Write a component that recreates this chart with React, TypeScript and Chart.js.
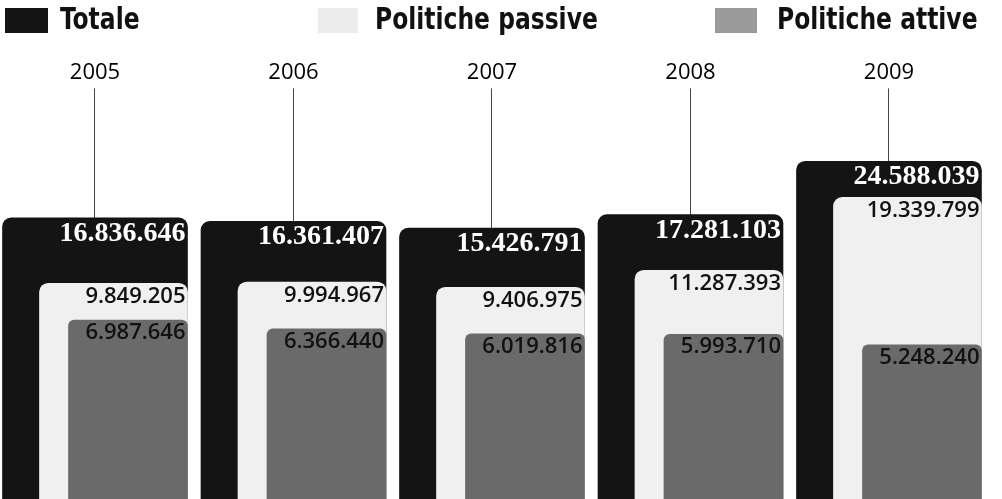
import React, { useEffect, useRef } from "react";
import { Chart, registerables } from "chart.js";

Chart.register(...registerables);

// ---- data ----
const years = ["2005", "2006", "2007", "2008", "2009"];
const totale = [16836646, 16361407, 15426791, 17281103, 24588039];
const passive = [9849205, 9994967, 9406975, 11287393, 19339799];
const attive = [6987646, 6366440, 6019816, 5993710, 5248240];
const seriesNames = ["Totale", "Politiche passive", "Politiche attive"];

// ---- styling / scale ranges ----
const COLORS = ["#141414", "#f0f0f0", "#6a6a6a"];
const Y_TOT = { min: -21.65e6, max: 33.47e6 };
const Y_PAS = { min: -13.96e6, max: 30.48e6 };
const Y_ATT = { min: -5.65e6, max: 22.8e6 };
const X_TOT = { min: -0.4786, max: 4.5694 };
const X_PAS = { min: -0.5718, max: 4.4762 };
const X_ATT = { min: -0.6448, max: 4.4032 };

const fmt = (v: number) => String(v).replace(/\B(?=(\d{3})+(?!\d))/g, ".");

const LABEL_STYLES = [
  { font: "bold 28px 'Liberation Serif', serif", color: "#ffffff", dy: 23 },
  { font: "600 22px 'Open Sans', sans-serif", color: "#111111", dy: 20 },
  { font: "600 22px 'Open Sans', sans-serif", color: "#111111", dy: 19 },
];

const valueLabels = {
  id: "valueLabels",
  afterDatasetsDraw(chart: any) {
    const ctx = chart.ctx;
    chart.data.datasets.forEach((ds: any, di: number) => {
      const meta = chart.getDatasetMeta(di);
      const st = LABEL_STYLES[di];
      meta.data.forEach((el: any, i: number) => {
        const { x, y, width } = el.getProps(["x", "y", "width"], true);
        ctx.save();
        ctx.font = st.font;
        ctx.fillStyle = st.color;
        ctx.textAlign = "right";
        ctx.textBaseline = "alphabetic";
        ctx.fillText(fmt(ds.raw[i]), x + width / 2 - 2, y + st.dy);
        ctx.restore();
      });
    });
  },
};

const legendFont = "'DejaVu Sans Condensed', 'DejaVu Sans', sans-serif";

const hiddenX = (r: { min: number; max: number }) => ({
  type: "linear",
  display: false,
  offset: false,
  grid: { offset: false },
  min: r.min,
  max: r.max,
});

export default function App() {
  const ref = useRef<HTMLCanvasElement | null>(null);

  useEffect(() => {
    if (!ref.current) return;
    const mk = (vals: number[]) => vals.map((v, i) => ({ x: i, y: v }));
    const chart = new Chart(ref.current, {
      type: "bar",
      data: {
        datasets: [
          {
            label: seriesNames[0],
            raw: totale,
            data: mk(totale),
            xAxisID: "xT",
            yAxisID: "yT",
            backgroundColor: COLORS[0],
            barThickness: 185,
            borderRadius: 9,
            base: Y_TOT.min,
            grouped: false,
            order: 3,
          } as any,
          {
            label: seriesNames[1],
            raw: passive,
            data: mk(passive),
            xAxisID: "xP",
            yAxisID: "yP",
            backgroundColor: COLORS[1],
            barThickness: 148,
            borderRadius: 9,
            base: Y_PAS.min,
            grouped: false,
            order: 2,
          } as any,
          {
            label: seriesNames[2],
            raw: attive,
            data: mk(attive),
            xAxisID: "xA",
            yAxisID: "yA",
            backgroundColor: COLORS[2],
            barThickness: 119,
            borderRadius: 6,
            base: Y_ATT.min,
            grouped: false,
            order: 1,
          } as any,
        ],
      },
      options: {
        animation: false,
        responsive: true,
        maintainAspectRatio: false,
        layout: { padding: { top: 58, left: 0, right: 0, bottom: 0 } },
        plugins: { legend: { display: false }, tooltip: { enabled: false } },
        scales: {
          xT: {
            type: "linear",
            position: "top",
            offset: false,
            min: X_TOT.min,
            max: X_TOT.max,
            afterBuildTicks: (axis: any) => {
              axis.ticks = years.map((_, i) => ({ value: i }));
            },
            ticks: {
              callback: (v: any) => years[v] ?? "",
              font: { family: "'Open Sans', sans-serif", size: 22, weight: "500" },
              color: "#000",
              padding: 2,
              autoSkip: false,
              maxRotation: 0,
            },
            grid: { offset: false, color: "#444", lineWidth: 1, tickLength: 8, drawTicks: true, drawOnChartArea: true },
            border: { display: false },
          },
          xP: hiddenX(X_PAS),
          xA: hiddenX(X_ATT),
          yT: { type: "linear", display: false, min: Y_TOT.min, max: Y_TOT.max },
          yP: { type: "linear", display: false, min: Y_PAS.min, max: Y_PAS.max },
          yA: { type: "linear", display: false, min: Y_ATT.min, max: Y_ATT.max },
        },
      } as any,
      plugins: [valueLabels],
    });
    return () => chart.destroy();
  }, []);

  const legendItems = [
    { name: seriesNames[0], sw: COLORS[0], swLeft: 5, swW: 43, textLeft: 60 },
    { name: seriesNames[1], sw: "#ececec", swLeft: 318, swW: 40, textLeft: 375 },
    { name: seriesNames[2], sw: "#9a9a9a", swLeft: 715, swW: 42, textLeft: 777 },
  ];

  return (
    <div style={{ position: "fixed", left: 0, top: 0, width: 1002, height: 499, background: "#fff", overflow: "hidden" }}>
      <canvas ref={ref} />
      {legendItems.map((it) => (
        <React.Fragment key={it.name}>
          <div style={{ position: "absolute", left: it.swLeft, top: 8, width: it.swW, height: 25, background: it.sw }} />
          <div
            style={{
              position: "absolute",
              left: it.textLeft,
              top: 2,
              fontFamily: legendFont,
              fontWeight: "bold",
              fontSize: 31,
              lineHeight: "32px",
              color: "#111",
              whiteSpace: "nowrap",
              transform: "scaleX(0.84)",
              transformOrigin: "left top",
            }}
          >
            {it.name}
          </div>
        </React.Fragment>
      ))}
    </div>
  );
}
